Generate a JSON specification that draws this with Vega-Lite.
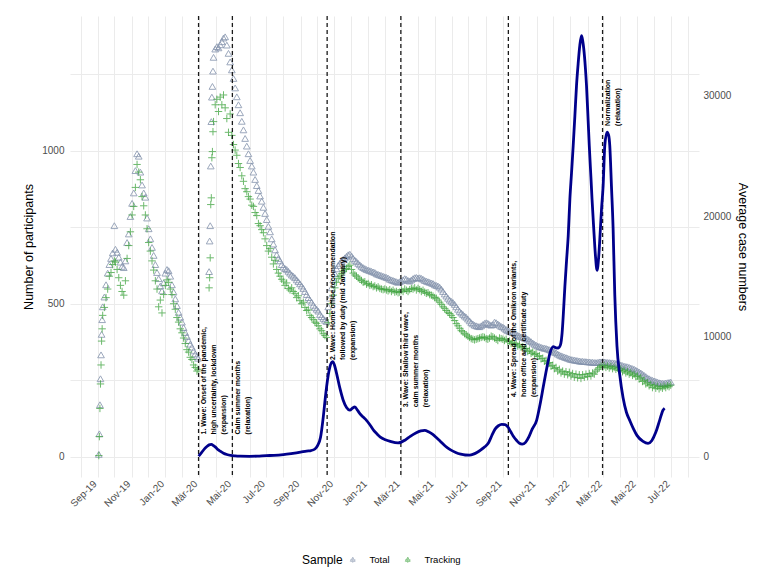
{
  "$schema": "https://vega.github.io/schema/vega-lite/v6.json",
  "width": 629,
  "height": 461,
  "autosize": {"type": "none"},
  "padding": {"left": 70, "top": 16, "right": 69, "bottom": 106},
  "background": "white",
  "config": {
    "font": "Liberation Sans",
    "view": {"stroke": null},
    "axis": {
      "domain": false,
      "ticks": false,
      "gridColor": "#EBEBEB",
      "gridWidth": 1,
      "labelColor": "#4D4D4D",
      "labelFontSize": 10,
      "titleFontSize": 12.5,
      "titleFontWeight": "normal",
      "titleColor": "#000000"
    }
  },
  "datasets": {
    "panel": [
      {"d":"2019-09-03","Total":8,"Tracking":4},
      {"d":"2019-09-04","Total":75,"Tracking":66},
      {"d":"2019-09-05","Total":170,"Tracking":158},
      {"d":"2019-09-06","Total":255,"Tracking":238},
      {"d":"2019-09-07","Total":333,"Tracking":300},
      {"d":"2019-09-08","Total":400,"Tracking":378},
      {"d":"2019-09-09","Total":448,"Tracking":418},
      {"d":"2019-09-10","Total":490,"Tracking":462},
      {"d":"2019-09-13","Total":522,"Tracking":488},
      {"d":"2019-09-16","Total":562,"Tracking":520},
      {"d":"2019-09-19","Total":600,"Tracking":548},
      {"d":"2019-09-22","Total":628,"Tracking":590},
      {"d":"2019-09-25","Total":648,"Tracking":602},
      {"d":"2019-09-28","Total":666,"Tracking":628},
      {"d":"2019-10-01","Total":755,"Tracking":640},
      {"d":"2019-10-03","Total":678,"Tracking":636},
      {"d":"2019-10-06","Total":668,"Tracking":612},
      {"d":"2019-10-09","Total":652,"Tracking":585},
      {"d":"2019-10-12","Total":636,"Tracking":560},
      {"d":"2019-10-15","Total":622,"Tracking":540},
      {"d":"2019-10-18","Total":618,"Tracking":528},
      {"d":"2019-10-21","Total":640,"Tracking":575},
      {"d":"2019-10-24","Total":700,"Tracking":648},
      {"d":"2019-10-27","Total":728,"Tracking":690},
      {"d":"2019-10-30","Total":785,"Tracking":735},
      {"d":"2019-11-02","Total":828,"Tracking":790},
      {"d":"2019-11-05","Total":862,"Tracking":818},
      {"d":"2019-11-08","Total":935,"Tracking":880},
      {"d":"2019-11-11","Total":990,"Tracking":955},
      {"d":"2019-11-14","Total":982,"Tracking":930},
      {"d":"2019-11-17","Total":930,"Tracking":905},
      {"d":"2019-11-20","Total":888,"Tracking":850},
      {"d":"2019-11-23","Total":862,"Tracking":820},
      {"d":"2019-11-26","Total":848,"Tracking":790},
      {"d":"2019-11-29","Total":780,"Tracking":745},
      {"d":"2019-12-02","Total":745,"Tracking":700},
      {"d":"2019-12-05","Total":712,"Tracking":672},
      {"d":"2019-12-08","Total":684,"Tracking":640},
      {"d":"2019-12-11","Total":658,"Tracking":610},
      {"d":"2019-12-14","Total":628,"Tracking":575},
      {"d":"2019-12-17","Total":602,"Tracking":548},
      {"d":"2019-12-20","Total":582,"Tracking":490},
      {"d":"2019-12-23","Total":558,"Tracking":512},
      {"d":"2019-12-26","Total":542,"Tracking":470},
      {"d":"2019-12-29","Total":568,"Tracking":530},
      {"d":"2020-01-01","Total":600,"Tracking":560},
      {"d":"2020-01-04","Total":612,"Tracking":578},
      {"d":"2020-01-07","Total":608,"Tracking":570},
      {"d":"2020-01-10","Total":590,"Tracking":548},
      {"d":"2020-01-13","Total":562,"Tracking":530},
      {"d":"2020-01-16","Total":538,"Tracking":500},
      {"d":"2020-01-19","Total":516,"Tracking":482},
      {"d":"2020-01-22","Total":494,"Tracking":455},
      {"d":"2020-01-25","Total":472,"Tracking":440},
      {"d":"2020-01-28","Total":456,"Tracking":418},
      {"d":"2020-01-31","Total":440,"Tracking":405},
      {"d":"2020-02-03","Total":422,"Tracking":388},
      {"d":"2020-02-06","Total":406,"Tracking":370},
      {"d":"2020-02-09","Total":393,"Tracking":350},
      {"d":"2020-02-12","Total":380,"Tracking":342},
      {"d":"2020-02-15","Total":368,"Tracking":325},
      {"d":"2020-02-18","Total":358,"Tracking":318},
      {"d":"2020-02-21","Total":346,"Tracking":300},
      {"d":"2020-02-24","Total":336,"Tracking":292},
      {"d":"2020-02-27","Total":328,"Tracking":280},
      {"d":"2020-02-29","Total":322,"Tracking":286},
      {"d":"2020-03-20","Total":605,"Tracking":552},
      {"d":"2020-03-21","Total":705,"Tracking":585},
      {"d":"2020-03-22","Total":755,"Tracking":650},
      {"d":"2020-03-23","Total":950,"Tracking":824},
      {"d":"2020-03-24","Total":1095,"Tracking":846},
      {"d":"2020-03-25","Total":1175,"Tracking":977},
      {"d":"2020-03-26","Total":1210,"Tracking":997},
      {"d":"2020-03-27","Total":1260,"Tracking":1062},
      {"d":"2020-03-28","Total":1305,"Tracking":1095},
      {"d":"2020-03-31","Total":1332,"Tracking":1150},
      {"d":"2020-04-03","Total":1340,"Tracking":1168},
      {"d":"2020-04-06","Total":1336,"Tracking":1128},
      {"d":"2020-04-09","Total":1346,"Tracking":1175},
      {"d":"2020-04-12","Total":1356,"Tracking":1150},
      {"d":"2020-04-15","Total":1368,"Tracking":1182},
      {"d":"2020-04-18","Total":1372,"Tracking":1140},
      {"d":"2020-04-21","Total":1345,"Tracking":1105},
      {"d":"2020-04-24","Total":1318,"Tracking":1060},
      {"d":"2020-04-27","Total":1290,"Tracking":1120},
      {"d":"2020-04-30","Total":1264,"Tracking":1050},
      {"d":"2020-05-03","Total":1236,"Tracking":1020},
      {"d":"2020-05-06","Total":1205,"Tracking":1002},
      {"d":"2020-05-09","Total":1176,"Tracking":985},
      {"d":"2020-05-12","Total":1150,"Tracking":958},
      {"d":"2020-05-15","Total":1124,"Tracking":945},
      {"d":"2020-05-18","Total":1096,"Tracking":918},
      {"d":"2020-05-21","Total":1068,"Tracking":900},
      {"d":"2020-05-24","Total":1040,"Tracking":876},
      {"d":"2020-05-27","Total":1015,"Tracking":866},
      {"d":"2020-05-30","Total":990,"Tracking":850},
      {"d":"2020-06-02","Total":968,"Tracking":842},
      {"d":"2020-06-05","Total":950,"Tracking":822},
      {"d":"2020-06-08","Total":930,"Tracking":818},
      {"d":"2020-06-11","Total":906,"Tracking":798},
      {"d":"2020-06-14","Total":886,"Tracking":788},
      {"d":"2020-06-17","Total":870,"Tracking":762},
      {"d":"2020-06-20","Total":852,"Tracking":755},
      {"d":"2020-06-23","Total":835,"Tracking":742},
      {"d":"2020-06-26","Total":815,"Tracking":732},
      {"d":"2020-06-29","Total":795,"Tracking":712},
      {"d":"2020-07-02","Total":775,"Tracking":690},
      {"d":"2020-07-05","Total":753,"Tracking":672},
      {"d":"2020-07-08","Total":735,"Tracking":680},
      {"d":"2020-07-11","Total":712,"Tracking":652},
      {"d":"2020-07-14","Total":695,"Tracking":630},
      {"d":"2020-07-17","Total":676,"Tracking":642},
      {"d":"2020-07-20","Total":660,"Tracking":612},
      {"d":"2020-07-23","Total":648,"Tracking":600},
      {"d":"2020-07-26","Total":640,"Tracking":590},
      {"d":"2020-07-29","Total":628,"Tracking":580},
      {"d":"2020-08-01","Total":620,"Tracking":574},
      {"d":"2020-08-04","Total":615,"Tracking":560},
      {"d":"2020-08-07","Total":612,"Tracking":568},
      {"d":"2020-08-10","Total":606,"Tracking":550},
      {"d":"2020-08-13","Total":600,"Tracking":545},
      {"d":"2020-08-16","Total":594,"Tracking":552},
      {"d":"2020-08-19","Total":590,"Tracking":540},
      {"d":"2020-08-22","Total":585,"Tracking":534},
      {"d":"2020-08-25","Total":578,"Tracking":520},
      {"d":"2020-08-28","Total":572,"Tracking":526},
      {"d":"2020-08-31","Total":565,"Tracking":510},
      {"d":"2020-09-03","Total":558,"Tracking":500},
      {"d":"2020-09-06","Total":550,"Tracking":505},
      {"d":"2020-09-09","Total":540,"Tracking":488},
      {"d":"2020-09-12","Total":530,"Tracking":478},
      {"d":"2020-09-15","Total":520,"Tracking":480},
      {"d":"2020-09-18","Total":512,"Tracking":462},
      {"d":"2020-09-21","Total":505,"Tracking":455},
      {"d":"2020-09-24","Total":495,"Tracking":448},
      {"d":"2020-09-27","Total":488,"Tracking":440},
      {"d":"2020-09-30","Total":482,"Tracking":436},
      {"d":"2020-10-03","Total":476,"Tracking":428},
      {"d":"2020-10-06","Total":465,"Tracking":418},
      {"d":"2020-10-09","Total":458,"Tracking":412},
      {"d":"2020-10-12","Total":452,"Tracking":402},
      {"d":"2020-10-15","Total":446,"Tracking":396},
      {"d":"2020-10-18","Total":442,"Tracking":390},
      {"d":"2020-10-21","Total":490,"Tracking":438},
      {"d":"2020-10-24","Total":518,"Tracking":468},
      {"d":"2020-10-27","Total":552,"Tracking":500},
      {"d":"2020-10-30","Total":578,"Tracking":528},
      {"d":"2020-11-02","Total":598,"Tracking":552},
      {"d":"2020-11-05","Total":614,"Tracking":570},
      {"d":"2020-11-08","Total":625,"Tracking":583},
      {"d":"2020-11-11","Total":632,"Tracking":590},
      {"d":"2020-11-14","Total":640,"Tracking":598},
      {"d":"2020-11-17","Total":645,"Tracking":606},
      {"d":"2020-11-20","Total":650,"Tracking":612},
      {"d":"2020-11-23","Total":655,"Tracking":615},
      {"d":"2020-11-26","Total":660,"Tracking":622},
      {"d":"2020-11-29","Total":662,"Tracking":626},
      {"d":"2020-12-02","Total":656,"Tracking":612},
      {"d":"2020-12-05","Total":648,"Tracking":600},
      {"d":"2020-12-08","Total":642,"Tracking":594},
      {"d":"2020-12-11","Total":638,"Tracking":590},
      {"d":"2020-12-14","Total":632,"Tracking":584},
      {"d":"2020-12-17","Total":627,"Tracking":580},
      {"d":"2020-12-20","Total":622,"Tracking":576},
      {"d":"2020-12-23","Total":618,"Tracking":570},
      {"d":"2020-12-26","Total":615,"Tracking":572},
      {"d":"2020-12-29","Total":612,"Tracking":564},
      {"d":"2021-01-01","Total":610,"Tracking":566},
      {"d":"2021-01-04","Total":608,"Tracking":560},
      {"d":"2021-01-07","Total":606,"Tracking":562},
      {"d":"2021-01-10","Total":604,"Tracking":556},
      {"d":"2021-01-13","Total":602,"Tracking":558},
      {"d":"2021-01-16","Total":598,"Tracking":552},
      {"d":"2021-01-19","Total":596,"Tracking":555},
      {"d":"2021-01-22","Total":594,"Tracking":550},
      {"d":"2021-01-25","Total":592,"Tracking":548},
      {"d":"2021-01-28","Total":590,"Tracking":546},
      {"d":"2021-01-31","Total":588,"Tracking":548},
      {"d":"2021-02-03","Total":586,"Tracking":545},
      {"d":"2021-02-06","Total":584,"Tracking":542},
      {"d":"2021-02-09","Total":580,"Tracking":546},
      {"d":"2021-02-12","Total":578,"Tracking":540},
      {"d":"2021-02-15","Total":576,"Tracking":544},
      {"d":"2021-02-18","Total":574,"Tracking":538},
      {"d":"2021-02-21","Total":572,"Tracking":540},
      {"d":"2021-02-24","Total":570,"Tracking":536},
      {"d":"2021-02-27","Total":572,"Tracking":538},
      {"d":"2021-03-02","Total":575,"Tracking":545},
      {"d":"2021-03-05","Total":578,"Tracking":540},
      {"d":"2021-03-08","Total":582,"Tracking":548},
      {"d":"2021-03-11","Total":580,"Tracking":544},
      {"d":"2021-03-14","Total":576,"Tracking":540},
      {"d":"2021-03-17","Total":574,"Tracking":546},
      {"d":"2021-03-20","Total":578,"Tracking":550},
      {"d":"2021-03-23","Total":582,"Tracking":548},
      {"d":"2021-03-26","Total":585,"Tracking":552},
      {"d":"2021-03-29","Total":586,"Tracking":545},
      {"d":"2021-04-01","Total":584,"Tracking":550},
      {"d":"2021-04-04","Total":585,"Tracking":546},
      {"d":"2021-04-07","Total":583,"Tracking":540},
      {"d":"2021-04-10","Total":580,"Tracking":544},
      {"d":"2021-04-13","Total":576,"Tracking":538},
      {"d":"2021-04-16","Total":574,"Tracking":534},
      {"d":"2021-04-19","Total":572,"Tracking":536},
      {"d":"2021-04-22","Total":570,"Tracking":530},
      {"d":"2021-04-25","Total":568,"Tracking":528},
      {"d":"2021-04-28","Total":566,"Tracking":525},
      {"d":"2021-05-01","Total":562,"Tracking":520},
      {"d":"2021-05-04","Total":560,"Tracking":518},
      {"d":"2021-05-07","Total":558,"Tracking":512},
      {"d":"2021-05-10","Total":554,"Tracking":505},
      {"d":"2021-05-13","Total":548,"Tracking":498},
      {"d":"2021-05-16","Total":540,"Tracking":490},
      {"d":"2021-05-19","Total":532,"Tracking":485},
      {"d":"2021-05-22","Total":525,"Tracking":478},
      {"d":"2021-05-25","Total":518,"Tracking":472},
      {"d":"2021-05-28","Total":512,"Tracking":468},
      {"d":"2021-05-31","Total":508,"Tracking":462},
      {"d":"2021-06-03","Total":504,"Tracking":455},
      {"d":"2021-06-06","Total":498,"Tracking":445},
      {"d":"2021-06-09","Total":490,"Tracking":435},
      {"d":"2021-06-12","Total":482,"Tracking":428},
      {"d":"2021-06-15","Total":475,"Tracking":420},
      {"d":"2021-06-18","Total":470,"Tracking":412},
      {"d":"2021-06-21","Total":465,"Tracking":408},
      {"d":"2021-06-24","Total":460,"Tracking":402},
      {"d":"2021-06-27","Total":456,"Tracking":398},
      {"d":"2021-06-30","Total":450,"Tracking":394},
      {"d":"2021-07-03","Total":444,"Tracking":390},
      {"d":"2021-07-06","Total":438,"Tracking":386},
      {"d":"2021-07-09","Total":434,"Tracking":384},
      {"d":"2021-07-12","Total":430,"Tracking":382},
      {"d":"2021-07-15","Total":428,"Tracking":384},
      {"d":"2021-07-18","Total":426,"Tracking":386},
      {"d":"2021-07-21","Total":425,"Tracking":388},
      {"d":"2021-07-24","Total":428,"Tracking":390},
      {"d":"2021-07-27","Total":432,"Tracking":392},
      {"d":"2021-07-30","Total":436,"Tracking":390},
      {"d":"2021-08-02","Total":438,"Tracking":386},
      {"d":"2021-08-05","Total":436,"Tracking":384},
      {"d":"2021-08-08","Total":432,"Tracking":388},
      {"d":"2021-08-11","Total":430,"Tracking":394},
      {"d":"2021-08-14","Total":432,"Tracking":392},
      {"d":"2021-08-17","Total":440,"Tracking":388},
      {"d":"2021-08-20","Total":438,"Tracking":384},
      {"d":"2021-08-23","Total":434,"Tracking":380},
      {"d":"2021-08-26","Total":430,"Tracking":388},
      {"d":"2021-08-29","Total":426,"Tracking":386},
      {"d":"2021-09-01","Total":424,"Tracking":384},
      {"d":"2021-09-04","Total":420,"Tracking":380},
      {"d":"2021-09-07","Total":416,"Tracking":384},
      {"d":"2021-09-10","Total":412,"Tracking":376},
      {"d":"2021-09-13","Total":410,"Tracking":378},
      {"d":"2021-09-16","Total":408,"Tracking":370},
      {"d":"2021-09-19","Total":406,"Tracking":374},
      {"d":"2021-09-22","Total":404,"Tracking":366},
      {"d":"2021-09-25","Total":400,"Tracking":370},
      {"d":"2021-09-28","Total":397,"Tracking":362},
      {"d":"2021-10-01","Total":394,"Tracking":366},
      {"d":"2021-10-04","Total":392,"Tracking":358},
      {"d":"2021-10-07","Total":390,"Tracking":360},
      {"d":"2021-10-10","Total":388,"Tracking":352},
      {"d":"2021-10-13","Total":386,"Tracking":354},
      {"d":"2021-10-16","Total":384,"Tracking":344},
      {"d":"2021-10-19","Total":380,"Tracking":348},
      {"d":"2021-10-22","Total":376,"Tracking":338},
      {"d":"2021-10-25","Total":372,"Tracking":342},
      {"d":"2021-10-28","Total":368,"Tracking":334},
      {"d":"2021-10-31","Total":365,"Tracking":337},
      {"d":"2021-11-03","Total":362,"Tracking":328},
      {"d":"2021-11-06","Total":360,"Tracking":330},
      {"d":"2021-11-09","Total":358,"Tracking":320},
      {"d":"2021-11-12","Total":356,"Tracking":322},
      {"d":"2021-11-15","Total":355,"Tracking":312},
      {"d":"2021-11-18","Total":354,"Tracking":315},
      {"d":"2021-11-21","Total":352,"Tracking":304},
      {"d":"2021-11-24","Total":350,"Tracking":308},
      {"d":"2021-11-27","Total":348,"Tracking":296},
      {"d":"2021-11-30","Total":345,"Tracking":299},
      {"d":"2021-12-03","Total":342,"Tracking":288},
      {"d":"2021-12-06","Total":340,"Tracking":292},
      {"d":"2021-12-09","Total":336,"Tracking":280},
      {"d":"2021-12-12","Total":333,"Tracking":286},
      {"d":"2021-12-15","Total":330,"Tracking":274},
      {"d":"2021-12-18","Total":328,"Tracking":280},
      {"d":"2021-12-21","Total":326,"Tracking":270},
      {"d":"2021-12-24","Total":324,"Tracking":278},
      {"d":"2021-12-27","Total":322,"Tracking":268},
      {"d":"2021-12-30","Total":320,"Tracking":276},
      {"d":"2022-01-02","Total":318,"Tracking":264},
      {"d":"2022-01-05","Total":317,"Tracking":272},
      {"d":"2022-01-08","Total":316,"Tracking":260},
      {"d":"2022-01-11","Total":315,"Tracking":270},
      {"d":"2022-01-14","Total":314,"Tracking":258},
      {"d":"2022-01-17","Total":313,"Tracking":268},
      {"d":"2022-01-20","Total":312,"Tracking":256},
      {"d":"2022-01-23","Total":312,"Tracking":268},
      {"d":"2022-01-26","Total":311,"Tracking":260},
      {"d":"2022-01-29","Total":311,"Tracking":270},
      {"d":"2022-02-01","Total":310,"Tracking":262},
      {"d":"2022-02-04","Total":310,"Tracking":272},
      {"d":"2022-02-07","Total":309,"Tracking":264},
      {"d":"2022-02-10","Total":309,"Tracking":274},
      {"d":"2022-02-13","Total":308,"Tracking":270},
      {"d":"2022-02-16","Total":308,"Tracking":280},
      {"d":"2022-02-19","Total":308,"Tracking":286},
      {"d":"2022-02-22","Total":310,"Tracking":291},
      {"d":"2022-02-25","Total":310,"Tracking":296},
      {"d":"2022-02-28","Total":311,"Tracking":293},
      {"d":"2022-03-03","Total":310,"Tracking":298},
      {"d":"2022-03-06","Total":309,"Tracking":292},
      {"d":"2022-03-09","Total":308,"Tracking":296},
      {"d":"2022-03-12","Total":308,"Tracking":290},
      {"d":"2022-03-15","Total":307,"Tracking":295},
      {"d":"2022-03-18","Total":307,"Tracking":288},
      {"d":"2022-03-21","Total":306,"Tracking":292},
      {"d":"2022-03-24","Total":305,"Tracking":286},
      {"d":"2022-03-27","Total":304,"Tracking":290},
      {"d":"2022-03-30","Total":302,"Tracking":282},
      {"d":"2022-04-02","Total":300,"Tracking":286},
      {"d":"2022-04-05","Total":298,"Tracking":278},
      {"d":"2022-04-08","Total":296,"Tracking":282},
      {"d":"2022-04-11","Total":295,"Tracking":274},
      {"d":"2022-04-14","Total":294,"Tracking":278},
      {"d":"2022-04-17","Total":292,"Tracking":270},
      {"d":"2022-04-20","Total":290,"Tracking":274},
      {"d":"2022-04-23","Total":288,"Tracking":266},
      {"d":"2022-04-26","Total":286,"Tracking":270},
      {"d":"2022-04-29","Total":283,"Tracking":262},
      {"d":"2022-05-02","Total":280,"Tracking":264},
      {"d":"2022-05-05","Total":277,"Tracking":254},
      {"d":"2022-05-08","Total":274,"Tracking":258},
      {"d":"2022-05-11","Total":270,"Tracking":246},
      {"d":"2022-05-14","Total":266,"Tracking":250},
      {"d":"2022-05-17","Total":262,"Tracking":238},
      {"d":"2022-05-20","Total":258,"Tracking":242},
      {"d":"2022-05-23","Total":255,"Tracking":232},
      {"d":"2022-05-26","Total":252,"Tracking":236},
      {"d":"2022-05-29","Total":250,"Tracking":226},
      {"d":"2022-06-01","Total":248,"Tracking":232},
      {"d":"2022-06-04","Total":246,"Tracking":224},
      {"d":"2022-06-07","Total":244,"Tracking":230},
      {"d":"2022-06-10","Total":242,"Tracking":222},
      {"d":"2022-06-13","Total":241,"Tracking":228},
      {"d":"2022-06-16","Total":240,"Tracking":224},
      {"d":"2022-06-19","Total":240,"Tracking":230},
      {"d":"2022-06-22","Total":241,"Tracking":226},
      {"d":"2022-06-25","Total":242,"Tracking":232},
      {"d":"2022-06-28","Total":243,"Tracking":229},
      {"d":"2022-07-01","Total":244,"Tracking":234}
    ],
    "cases": [
      {"d":"2020-03-01","c":50},
      {"d":"2020-03-07","c":385},
      {"d":"2020-03-12","c":680},
      {"d":"2020-03-16","c":860},
      {"d":"2020-03-20","c":990},
      {"d":"2020-03-24","c":1030},
      {"d":"2020-03-28","c":930},
      {"d":"2020-04-01","c":780},
      {"d":"2020-04-05","c":600},
      {"d":"2020-04-09","c":470},
      {"d":"2020-04-15","c":300},
      {"d":"2020-04-21","c":190},
      {"d":"2020-04-28","c":110},
      {"d":"2020-05-06","c":70},
      {"d":"2020-05-15","c":50},
      {"d":"2020-06-01","c":40},
      {"d":"2020-06-15","c":55},
      {"d":"2020-07-01","c":100},
      {"d":"2020-07-15","c":120},
      {"d":"2020-08-01","c":180},
      {"d":"2020-08-15","c":260},
      {"d":"2020-09-01","c":380},
      {"d":"2020-09-12","c":480},
      {"d":"2020-09-20","c":520},
      {"d":"2020-09-27","c":650},
      {"d":"2020-10-02","c":950},
      {"d":"2020-10-07","c":1600},
      {"d":"2020-10-12","c":3300},
      {"d":"2020-10-15","c":4600},
      {"d":"2020-10-18","c":5810},
      {"d":"2020-10-21","c":6800},
      {"d":"2020-10-24","c":7480},
      {"d":"2020-10-29","c":7900},
      {"d":"2020-11-01","c":7650},
      {"d":"2020-11-05","c":6930},
      {"d":"2020-11-11","c":5700},
      {"d":"2020-11-17","c":4700},
      {"d":"2020-11-23","c":4100},
      {"d":"2020-11-29","c":3870},
      {"d":"2020-12-04","c":4050},
      {"d":"2020-12-08","c":4140},
      {"d":"2020-12-13","c":3850},
      {"d":"2020-12-17","c":3590},
      {"d":"2020-12-23","c":3300},
      {"d":"2020-12-29","c":3030},
      {"d":"2021-01-05","c":2600},
      {"d":"2021-01-11","c":2200},
      {"d":"2021-01-17","c":1900},
      {"d":"2021-01-23","c":1640},
      {"d":"2021-02-01","c":1420},
      {"d":"2021-02-10","c":1280},
      {"d":"2021-02-24","c":1150},
      {"d":"2021-03-09","c":1400},
      {"d":"2021-03-18","c":1700},
      {"d":"2021-03-28","c":1980},
      {"d":"2021-04-06","c":2150},
      {"d":"2021-04-13","c":2200},
      {"d":"2021-04-20","c":2080},
      {"d":"2021-04-27","c":1880},
      {"d":"2021-05-04","c":1600},
      {"d":"2021-05-11","c":1300},
      {"d":"2021-05-20","c":900},
      {"d":"2021-05-29","c":600},
      {"d":"2021-06-08","c":360},
      {"d":"2021-06-17","c":220},
      {"d":"2021-06-25","c":150},
      {"d":"2021-07-03","c":140},
      {"d":"2021-07-10","c":220},
      {"d":"2021-07-17","c":380},
      {"d":"2021-07-24","c":600},
      {"d":"2021-07-31","c":850},
      {"d":"2021-08-06","c":1150},
      {"d":"2021-08-12","c":1750},
      {"d":"2021-08-18","c":2300},
      {"d":"2021-08-24","c":2580},
      {"d":"2021-08-30","c":2700},
      {"d":"2021-09-05","c":2680},
      {"d":"2021-09-10","c":2480},
      {"d":"2021-09-15","c":2100},
      {"d":"2021-09-20","c":1700},
      {"d":"2021-09-26","c":1350},
      {"d":"2021-10-01","c":1120},
      {"d":"2021-10-06","c":1050},
      {"d":"2021-10-12","c":1200},
      {"d":"2021-10-18","c":1650},
      {"d":"2021-10-24","c":2300},
      {"d":"2021-11-01","c":3030},
      {"d":"2021-11-07","c":4300},
      {"d":"2021-11-13","c":5810},
      {"d":"2021-11-19","c":7300},
      {"d":"2021-11-25","c":8600},
      {"d":"2021-12-01","c":9150},
      {"d":"2021-12-06","c":9050},
      {"d":"2021-12-10","c":9040},
      {"d":"2021-12-14","c":9300},
      {"d":"2021-12-17","c":10300},
      {"d":"2021-12-20","c":12500},
      {"d":"2021-12-22","c":14160},
      {"d":"2021-12-25","c":16300},
      {"d":"2021-12-28","c":18340},
      {"d":"2021-12-31","c":21400},
      {"d":"2022-01-03","c":23600},
      {"d":"2022-01-06","c":25850},
      {"d":"2022-01-09","c":28300},
      {"d":"2022-01-12","c":30860},
      {"d":"2022-01-15","c":32700},
      {"d":"2022-01-18","c":34200},
      {"d":"2022-01-21","c":34980},
      {"d":"2022-01-23","c":34600},
      {"d":"2022-01-25","c":33920},
      {"d":"2022-01-28","c":32300},
      {"d":"2022-01-30","c":30860},
      {"d":"2022-02-02","c":27900},
      {"d":"2022-02-04","c":25850},
      {"d":"2022-02-07","c":23200},
      {"d":"2022-02-09","c":21400},
      {"d":"2022-02-12","c":19000},
      {"d":"2022-02-15","c":16800},
      {"d":"2022-02-18","c":15500},
      {"d":"2022-02-21","c":16600},
      {"d":"2022-02-23","c":18060},
      {"d":"2022-02-26","c":20500},
      {"d":"2022-03-01","c":22510},
      {"d":"2022-03-04","c":25850},
      {"d":"2022-03-08","c":26970},
      {"d":"2022-03-11","c":26700},
      {"d":"2022-03-13","c":25850},
      {"d":"2022-03-16","c":22510},
      {"d":"2022-03-19","c":19000},
      {"d":"2022-03-22","c":13500},
      {"d":"2022-03-26","c":9200},
      {"d":"2022-03-31","c":6800},
      {"d":"2022-04-06","c":4900},
      {"d":"2022-04-12","c":3700},
      {"d":"2022-04-18","c":3030},
      {"d":"2022-04-25","c":2300},
      {"d":"2022-05-01","c":1780},
      {"d":"2022-05-12","c":1280},
      {"d":"2022-05-21","c":1110},
      {"d":"2022-05-28","c":1360},
      {"d":"2022-06-04","c":2030},
      {"d":"2022-06-11","c":3030},
      {"d":"2022-06-17","c":3870},
      {"d":"2022-06-20","c":4030}
    ],
    "phases": [
      {"d":"2020-03-01","at":73,"label":"1. Wave: Onset of the pandemic,\nhigh uncertainty, lockdown\n(expansion)"},
      {"d":"2020-05-01","at":73,"label":"Calm summer months\n(relaxation)"},
      {"d":"2020-10-19","at":316,"label":"2. Wave: Home office recommendation\nfollowed by duty (mid January)\n(expansion)"},
      {"d":"2021-03-01","at":162,"label":"3. Wave: Shallow third wave,\ncalm summer months\n(relaxation)"},
      {"d":"2021-09-11","at":195,"label":"4. Wave: Spread of the Omikron variants,\nhome office and certificate duty\n(expansion)"},
      {"d":"2022-02-28","at":1081,"label":"Normalization\n(relaxation)"}
    ]
  },
  "encoding": {
    "x": {
      "field": "d",
      "type": "temporal",
      "scale": {"type": "utc", "domain": [{"year": 2019, "month": 7, "date": 13, "utc": true}, {"year": 2022, "month": 8, "date": 21, "utc": true}], "nice": false},
      "axis": {
        "title": null,
        "grid": true,
        "tickCount": {"interval": "month", "step": 1},
        "labelExpr": "utcmonth(datum.value) % 2 == 0 ? ['Jan','Feb','Mär','Apr','Mai','Jun','Jul','Aug','Sep','Okt','Nov','Dez'][utcmonth(datum.value)] + '-' + utcFormat(datum.value, '%y') : ''",
        "labelAngle": -45,
        "labelAlign": "right",
        "labelBaseline": "middle",
        "labelPadding": 5,
        "labelOffset": -3,
        "labelOverlap": false,
        "labelFlush": false
      }
    }
  },
  "resolve": {"scale": {"y": "independent"}},
  "layer": [
    {
      "data": {"name": "panel"},
      "transform": [
        {"fold": ["Total", "Tracking"], "as": ["Sample", "n"]},
        {"filter": "datum.Sample === 'Total'"}
      ],
      "mark": {"type": "point", "shape": "triangle-up", "filled": false, "size": 45, "strokeWidth": 1, "opacity": 0.8},
      "encoding": {
        "y": {
          "field": "n",
          "type": "quantitative",
          "scale": {"domain": [-66, 1440], "nice": false, "zero": false},
          "axis": {
            "orient": "left",
            "title": "Number of participants",
            "values": [0, 250, 500, 750, 1000, 1250],
            "format": "d",
            "labelExpr": "datum.value % 500 === 0 ? datum.label : ''",
            "labelPadding": 6,
            "titlePadding": 6,
            "grid": true
          }
        },
        "color": {
          "field": "Sample",
          "type": "nominal",
          "scale": {"domain": ["Total", "Tracking"], "range": ["#8392AC", "#3DA33D"]},
          "legend": {
            "orient": "none",
            "legendX": 232,
            "legendY": 539,
            "direction": "horizontal",
            "titleOrient": "left",
            "titleFontSize": 12,
            "titleFontWeight": "normal",
            "titleColor": "#000000",
            "labelFontSize": 9.5,
            "labelColor": "#000000",
            "symbolType": "M0,-1L0.87,0.5L-0.87,0.5Z M-1,0L1,0M0,-1L0,1",
            "symbolSize": 30,
            "symbolStrokeWidth": 1,
            "symbolOpacity": 0.6,
            "columnPadding": 13,
            "labelOffset": 12
          }
        }
      }
    },
    {
      "data": {"name": "panel"},
      "transform": [
        {"fold": ["Total", "Tracking"], "as": ["Sample", "n"]},
        {"filter": "datum.Sample === 'Tracking'"}
      ],
      "mark": {"type": "point", "shape": "M-1,0L1,0M0,-1L0,1", "filled": false, "size": 55, "strokeWidth": 1, "opacity": 0.75},
      "encoding": {
        "y": {"field": "n", "type": "quantitative", "scale": {"domain": [-66, 1440], "nice": false, "zero": false}, "axis": null},
        "color": {"field": "Sample", "type": "nominal", "scale": {"domain": ["Total", "Tracking"], "range": ["#8392AC", "#3DA33D"]}}
      }
    },
    {
      "data": {"name": "phases"},
      "mark": {"type": "rule", "color": "#1A1A1A", "strokeWidth": 1.3, "strokeDash": [4, 3]},
      "encoding": {}
    },
    {
      "data": {"name": "phases"},
      "mark": {"type": "text", "angle": 270, "align": "left", "baseline": "top", "dy": 1.5, "fontSize": 7, "fontWeight": "bold", "lineHeight": 10, "lineBreak": "\n", "color": "#000000"},
      "encoding": {
        "y": {"field": "at", "type": "quantitative", "scale": {"domain": [-66, 1440], "nice": false, "zero": false}, "axis": null},
        "text": {"field": "label"}
      }
    },
    {
      "data": {"name": "cases"},
      "mark": {"type": "line", "color": "#00008B", "strokeWidth": 2.8, "interpolate": "monotone"},
      "encoding": {
        "y": {
          "field": "c",
          "type": "quantitative",
          "scale": {"domain": [-1678, 36620], "nice": false, "zero": false},
          "axis": {
            "orient": "right",
            "title": "Average case numbers",
            "values": [0, 10000, 20000, 30000],
            "format": "d",
            "grid": false,
            "labelPadding": 4,
            "titlePadding": 5
          }
        }
      }
    }
  ]
}
